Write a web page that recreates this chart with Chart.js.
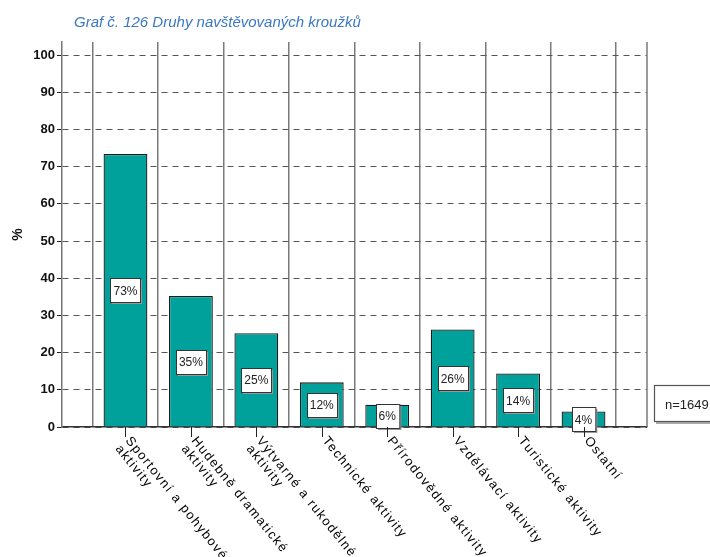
<!DOCTYPE html>
<html>
<head>
<meta charset="utf-8">
<script src="https://cdn.jsdelivr.net/npm/chart.js@4.4.1/dist/chart.umd.min.js"></script>
<style>
  body { margin: 0; background: #fff; }
  #wrap { width: 710px; height: 557px; position: relative; }
</style>
</head>
<body>
<div id="wrap"><canvas id="mainChart"></canvas></div>
<script>
// Données du graphique
const chartTitle = 'Graf č. 126 Druhy navštěvovaných kroužků';
const categories = [
    ['Sportovní a pohybové', 'aktivity'],
    ['Hudebně dramatické', 'aktivity'],
    ['Výtvarné a rukodělné', 'aktivity'],
    ['Technické aktivity'],
    ['Přírodovědné aktivity'],
    ['Vzdělávací aktivity'],
    ['Turistické aktivity'],
    ['Ostatní']
];
const percentValues = [73.4, 35.2, 25.2, 12, 6, 26.2, 14.4, 4.2];
const yTicks = [0, 10, 20, 30, 40, 50, 60, 70, 80, 90, 100];
const sampleNote = 'n=1649';

const TEAL = '#00A19A';
const GRID = '#7a7a7a';

// Bordure droite du cadre
const framePlugin = {
    id: 'frame',
    beforeDatasetsDraw(chart) {
        const c = chart.ctx;
        const a = chart.chartArea;
        c.save();
        c.strokeStyle = GRID;
        c.lineWidth = 1.5;
        c.beginPath();
        c.moveTo(a.right, a.top);
        c.lineTo(a.right, a.bottom);
        c.stroke();
        c.restore();
    }
};

// Étiquettes, boîtes de valeurs et titre
const decorPlugin = {
    id: 'decor',
    afterDatasetsDraw(chart) {
        const ctx = chart.ctx;
        const xs = chart.scales.x;
        const ys = chart.scales.y;
        const area = chart.chartArea;
        const meta = chart.getDatasetMeta(0);

        ctx.save();
        // boîtes "73%"
        ctx.font = '12px "Liberation Sans", Arial, sans-serif';
        ctx.textAlign = 'center';
        ctx.textBaseline = 'middle';
        meta.data.forEach((bar, i) => {
            const txt = Math.round(percentValues[i]) + '%';
            const cy = ys.getPixelForValue(percentValues[i] / 2);
            const w = ctx.measureText(txt).width + 6;
            const h = 24;
            const bx = Math.round(bar.x - w / 2) + 0.5;
            const by = Math.round(cy - h / 2) + 0.5;
            ctx.fillStyle = '#9a9a9a';
            ctx.fillRect(bx + 1.5, by + 1.5, w, h);
            ctx.fillStyle = '#fff';
            ctx.fillRect(bx, by, w, h);
            ctx.strokeStyle = '#333';
            ctx.lineWidth = 1;
            ctx.strokeRect(bx, by, w, h);
            ctx.fillStyle = '#222';
            ctx.fillText(txt, bar.x, cy + 1);
        });

        // traits + étiquettes pivotées
        ctx.strokeStyle = '#222';
        ctx.lineWidth = 1;
        ctx.fillStyle = '#000';
        ctx.font = '13px "Liberation Sans", Arial, sans-serif';
        ctx.textAlign = 'left';
        ctx.textBaseline = 'middle';
        try { ctx.letterSpacing = '1.4px'; } catch (e) {}
        categories.forEach((lines, i) => {
            const x = Math.round(xs.getPixelForValue(i)) + 0.5;
            ctx.beginPath();
            ctx.moveTo(x, area.bottom);
            ctx.lineTo(x, area.bottom + 10);
            ctx.stroke();
            ctx.save();
            ctx.translate(x + 1, area.bottom + 10);
            ctx.rotate(51 * Math.PI / 180);
            lines.forEach((l, j) => ctx.fillText(l, 2, j * 13));
            ctx.restore();
        });
        try { ctx.letterSpacing = '0px'; } catch (e) {}

        // n=1649
        ctx.fillStyle = '#aaa';
        ctx.fillRect(656, 387, 60, 37);
        ctx.fillStyle = '#fff';
        ctx.fillRect(654.5, 385.5, 60, 36);
        ctx.strokeStyle = '#555';
        ctx.lineWidth = 1.2;
        ctx.strokeRect(654.5, 385.5, 60, 36);
        ctx.fillStyle = '#222';
        ctx.font = '13px "Liberation Sans", Arial, sans-serif';
        ctx.textBaseline = 'middle';
        ctx.fillText(sampleNote, 665, 405);

        // titre
        ctx.fillStyle = '#3B78C3';
        ctx.font = 'italic 15px "Liberation Sans", Arial, sans-serif';
        ctx.textBaseline = 'middle';
        ctx.fillText(chartTitle, 74, 23);
        ctx.restore();
    }
};

const ctx = document.getElementById('mainChart').getContext('2d');
new Chart(ctx, {
    type: 'bar',
    data: {
        datasets: [{
            data: percentValues.map((v, i) => ({ x: i, y: v })),
            backgroundColor: TEAL,
            borderColor: '#1b1b1b',
            borderWidth: 1.3,
            categoryPercentage: 1,
            barPercentage: 0.67
        }]
    },
    options: {
        responsive: true,
        maintainAspectRatio: false,
        animation: false,
        layout: { padding: { top: 42, right: 63, left: 0, bottom: 0 } },
        plugins: { legend: { display: false }, tooltip: { enabled: false } },
        scales: {
            x: {
                type: 'linear',
                offset: false,
                min: -0.97,
                max: 7.97,
                afterBuildTicks: (scale) => {
                    const t = categories.map((c, i) => ({ value: i - 0.5 }));
                    t.push({ value: categories.length - 0.5 });
                    scale.ticks = t;
                },
                afterFit: (scale) => { scale.height = 130; },
                ticks: { display: false },
                grid: { color: GRID, lineWidth: 1.5, drawTicks: false, offset: false },
                border: { display: true, color: '#333', width: 1.5 }
            },
            y: {
                min: 0,
                max: 103.5,
                afterBuildTicks: (scale) => { scale.ticks = yTicks.map(v => ({ value: v })); },
                afterFit: (scale) => { scale.width = 62; },
                ticks: {
                    color: '#111',
                    padding: 2,
                    font: { family: '"Liberation Sans Narrow", "Liberation Sans", Arial', size: 13, weight: 'bold' }
                },
                grid: { color: '#555', lineWidth: 1, tickLength: 5, tickColor: '#222', tickBorderDash: [] },
                border: { display: true, color: '#777', width: 1.5, dash: [6, 5] },
                title: {
                    display: true,
                    text: '%',
                    color: '#111',
                    padding: { top: 10, bottom: 0 },
                    font: { family: '"Liberation Sans", Arial', size: 14, weight: 'bold' }
                }
            }
        }
    },
    plugins: [framePlugin, decorPlugin]
});
</script>
</body>
</html>
